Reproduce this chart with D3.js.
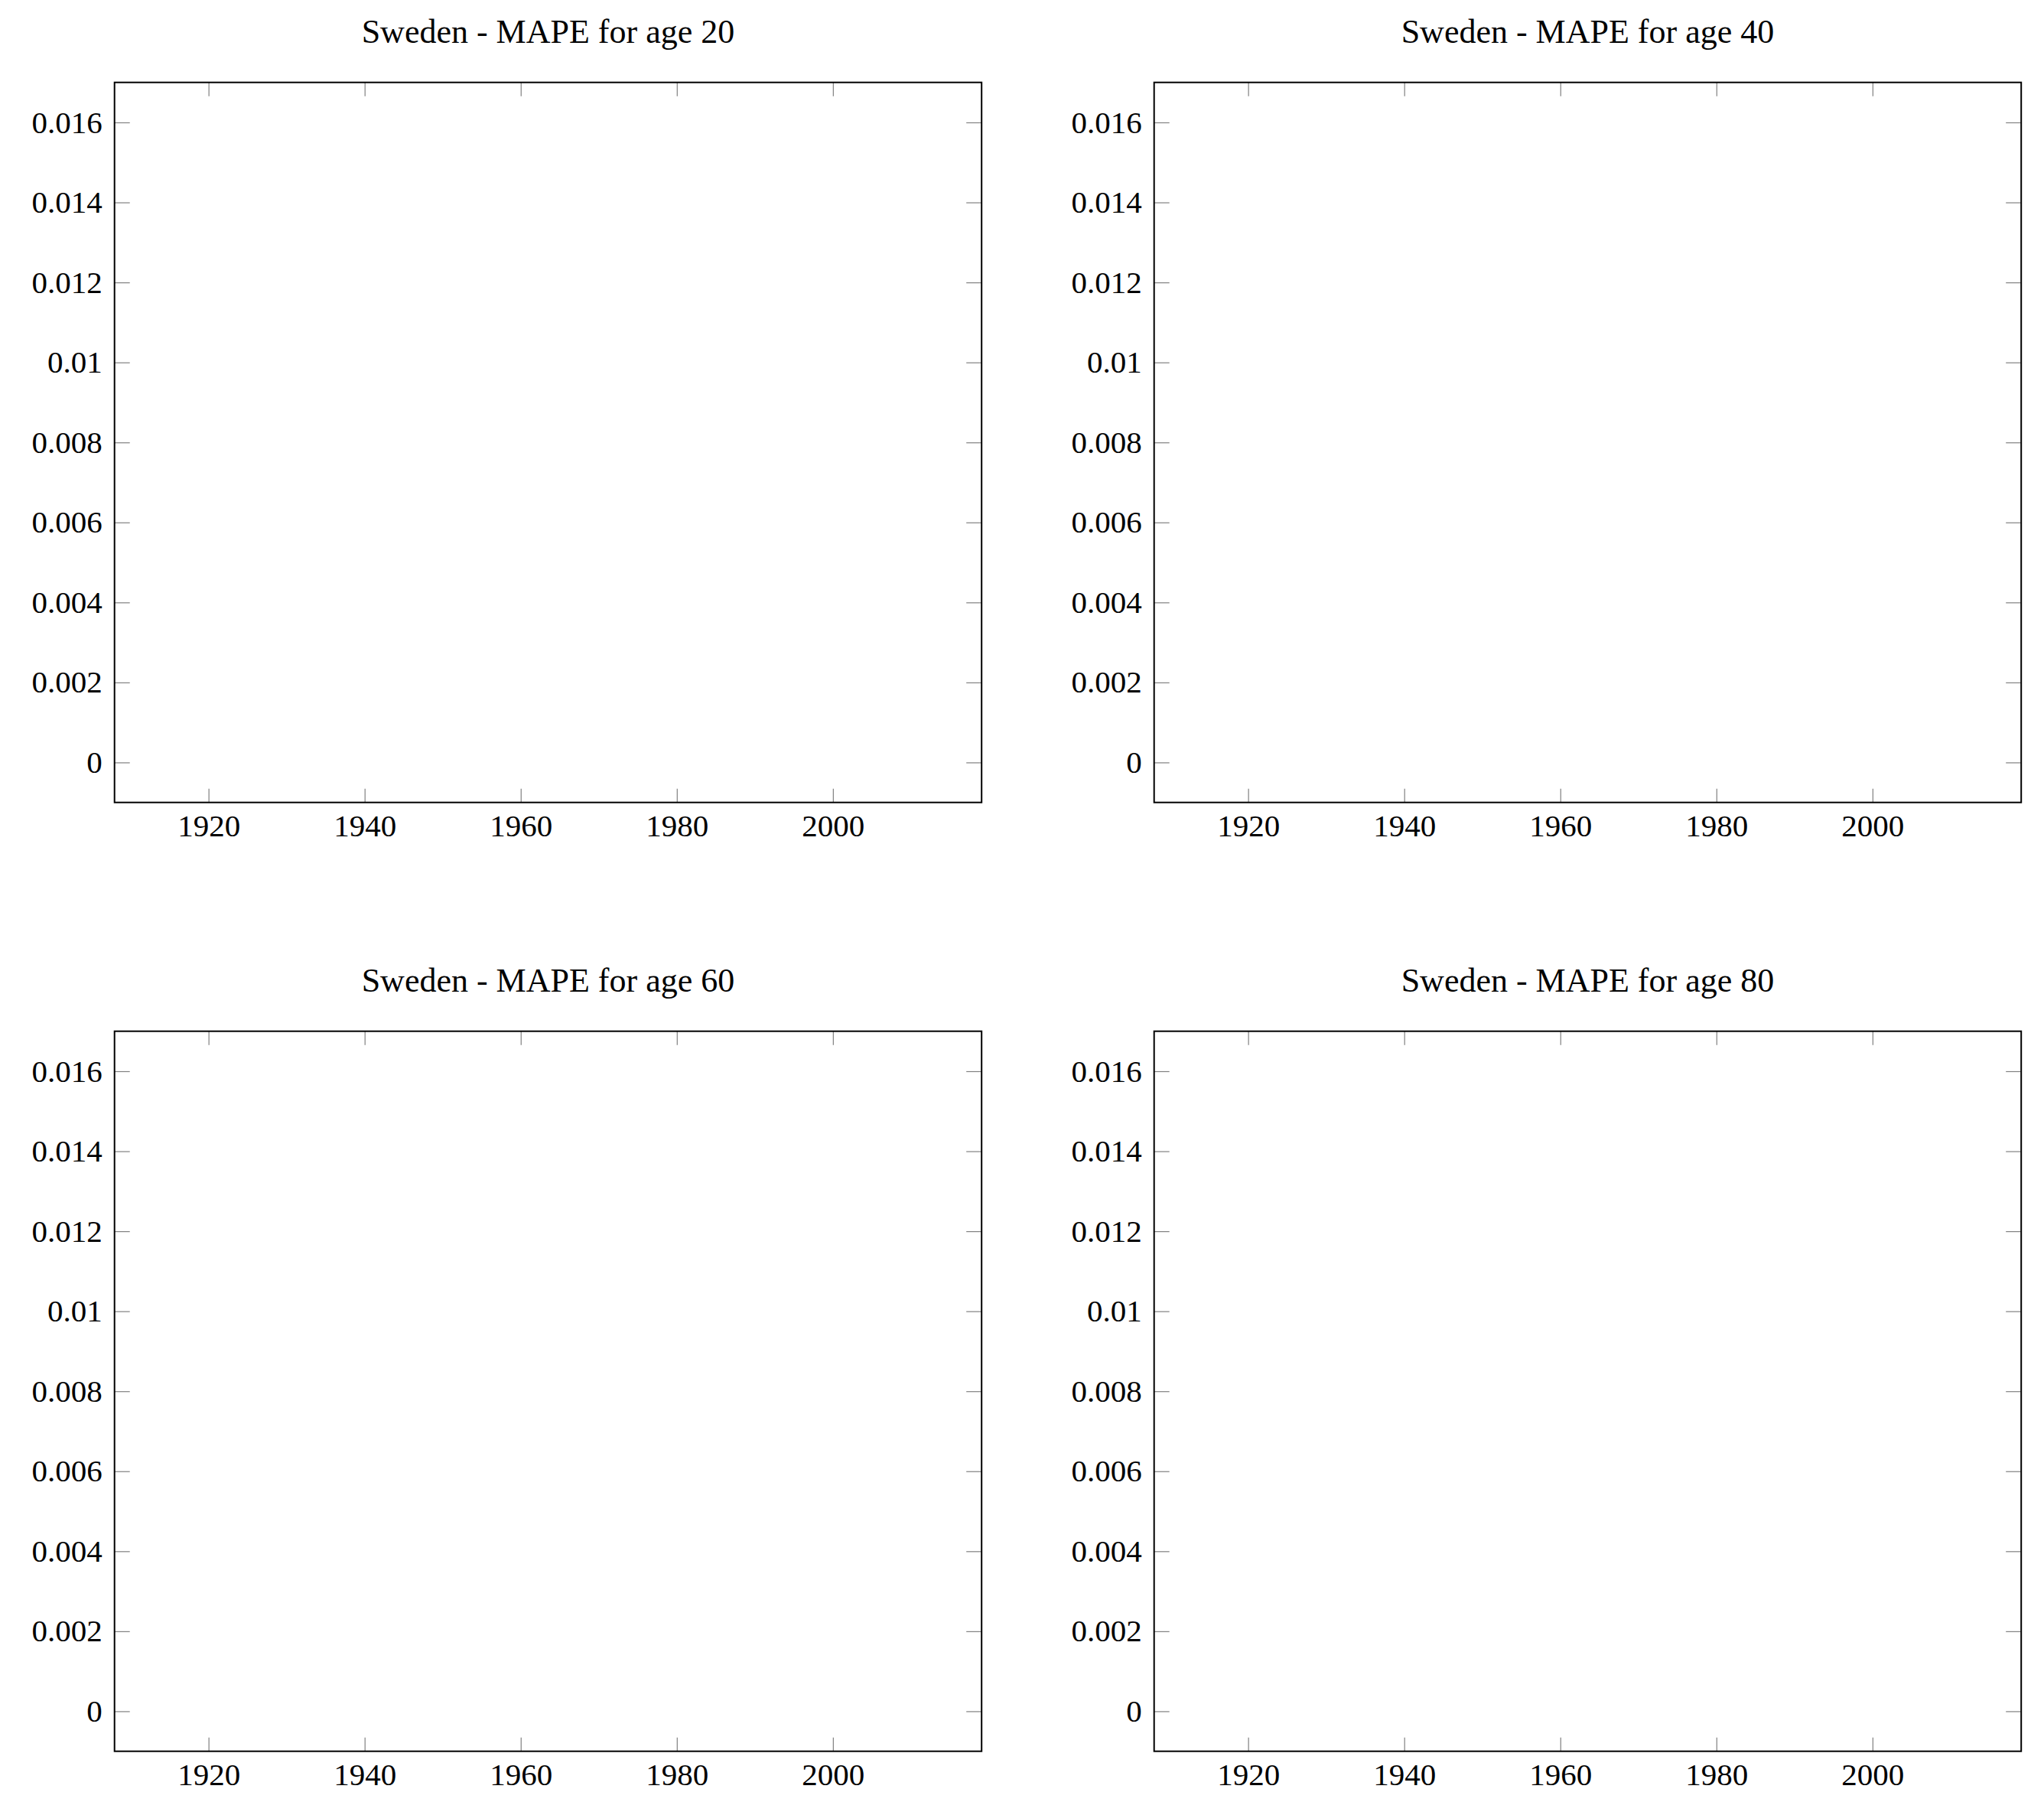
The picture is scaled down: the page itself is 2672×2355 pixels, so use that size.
<!DOCTYPE html>
<html>
<head>
<meta charset="utf-8">
<script src="https://cdn.jsdelivr.net/npm/d3@7"></script>
<style>
  html, body { margin: 0; padding: 0; background: #fff; }
  svg { display: block; }
</style>
</head>
<body>
<script>
// ---- data ----
const country = "Sweden";
const ages = [20, 40, 60, 80];
const yearTicks = [1920, 1940, 1960, 1980, 2000];
const mapeTicks = [0, 0.002, 0.004, 0.006, 0.008, 0.01, 0.012, 0.014, 0.016];
const mapeTickLabels = ["0", "0.002", "0.004", "0.006", "0.008", "0.01", "0.012", "0.014", "0.016"];
const yearDomain = [1907.95, 2019.05];
const mapeDomain = [-0.001, 0.017];
// series values (the reference panels contain no plotted data)
const seriesByAge = { 20: [], 40: [], 60: [], 80: [] };

// ---- layout ----
const W = 2672, H = 2355;
const panelW = 1133.5, panelH = 941;
const lefts = [149.7, 1508.7];
const tops = [107.7, 1347.7];
const FONT = "'Liberation Serif', 'Times New Roman', serif";

const svg = d3.select("body").append("svg")
  .attr("width", W).attr("height", H)
  .attr("viewBox", `0 0 ${W} ${H}`);
svg.append("rect").attr("width", W).attr("height", H).attr("fill", "#fff");

const x = d3.scaleLinear().domain(yearDomain).range([0, panelW]);
const y = d3.scaleLinear().domain(mapeDomain).range([panelH, 0]);

ages.forEach((age, i) => {
  const col = i % 2, row = Math.floor(i / 2);
  const g = svg.append("g")
    .attr("transform", `translate(${lefts[col]},${tops[row]})`);

  // title
  g.append("text")
    .attr("x", panelW / 2)
    .attr("y", -51.5)
    .attr("text-anchor", "middle")
    .attr("font-family", FONT)
    .attr("font-size", 44)
    .attr("fill", "#000")
    .text(`${country} - MAPE for age ${age}`);

  // axes
  const fmtY = d => mapeTickLabels[mapeTicks.indexOf(d)];
  const bottom = g.append("g").attr("transform", `translate(0,${panelH})`)
    .call(d3.axisBottom(x).tickValues(yearTicks).tickSize(-18).tickPadding(15).tickFormat(d3.format("d")));
  const top = g.append("g")
    .call(d3.axisTop(x).tickValues(yearTicks).tickSize(-18).tickFormat(""));
  const left = g.append("g")
    .call(d3.axisLeft(y).tickValues(mapeTicks).tickSize(-20).tickPadding(16).tickFormat(fmtY));
  const right = g.append("g").attr("transform", `translate(${panelW},0)`)
    .call(d3.axisRight(y).tickValues(mapeTicks).tickSize(-20).tickFormat(""));

  [bottom, top, left, right].forEach(a => {
    a.select(".domain").remove();
    a.selectAll(".tick line").attr("stroke", "#808080").attr("stroke-width", 1.2);
    a.selectAll(".tick text")
      .attr("font-family", FONT)
      .attr("font-size", 41)
      .attr("fill", "#000");
  });

  // series lines (none in the reference)
  const line = d3.line().x(d => x(d[0])).y(d => y(d[1]));
  const data = seriesByAge[age];
  if (data.length) {
    g.append("path").datum(data).attr("fill", "none").attr("stroke", "#000").attr("d", line);
  }

  // frame
  g.append("rect")
    .attr("x", 0).attr("y", 0)
    .attr("width", panelW).attr("height", panelH)
    .attr("fill", "none")
    .attr("stroke", "#000")
    .attr("stroke-width", 2);
});
</script>
</body>
</html>
